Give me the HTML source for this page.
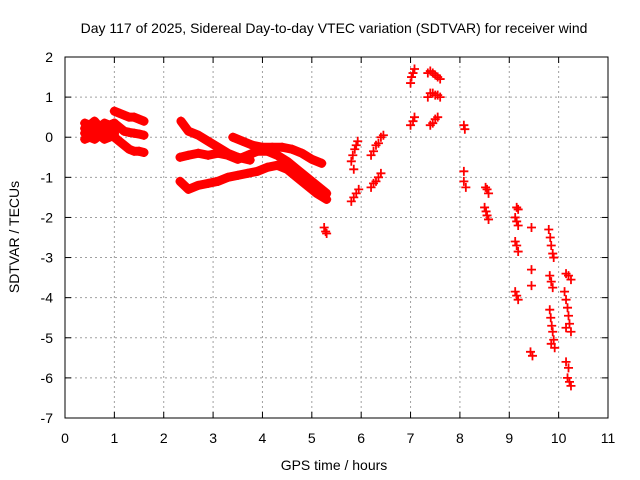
<!DOCTYPE html>
<html><head><meta charset="utf-8"><style>
body{margin:0;background:#fff}
svg{display:block;font-family:"Liberation Sans",sans-serif}
</style></head><body>
<svg id="chart" width="640" height="480">
<text x="334" y="33" text-anchor="middle" font-size="14">Day 117 of 2025, Sidereal Day-to-day VTEC variation (SDTVAR) for receiver wind</text>
<text x="334" y="470" text-anchor="middle" font-size="14">GPS time / hours</text>
<text transform="translate(19,237) rotate(-90)" text-anchor="middle" font-size="14">SDTVAR / TECUs</text>
<g id="grid"></g>
<g id="marks"></g>
<rect x="65" y="57" width="543" height="361" fill="none" stroke="#000" stroke-width="1"/>
<g id="ticks"></g>
</svg>
<script>
const xTicks=[0,1,2,3,4,5,6,7,8,9,10,11];
const yTicks=[2,1,0,-1,-2,-3,-4,-5,-6,-7];
// dense tracks
const t1a=[0.4,0.5,0.6,0.7,0.8,0.9,1.0], v1a=[0.35,0.3,0.4,0.25,0.35,0.3,0.35];
const t1b=[0.4,0.5,0.6,0.7,0.8,0.9,1.0], v1b=[0.1,0.15,0.05,0.2,0.1,0.15,0.1];
const t1c=[0.4,0.5,0.6,0.7,0.8,0.9,1.0], v1c=[-0.05,0.0,-0.05,0.05,-0.05,0.0,0.05];
const t1g=[0.4,0.5,0.6,0.7,0.8,0.9,1.0], v1g=[0.22,0.2,0.25,0.15,0.22,0.2,0.25];
const t1d=[1.0,1.1,1.2,1.3,1.4,1.5,1.6], v1d=[0.65,0.6,0.55,0.5,0.5,0.45,0.4];
const t1e=[1.0,1.1,1.2,1.3,1.4,1.5,1.6], v1e=[0.35,0.25,0.15,0.12,0.1,0.08,0.05];
const t1f=[1.0,1.1,1.2,1.3,1.4,1.5,1.6], v1f=[0.0,-0.1,-0.2,-0.3,-0.35,-0.35,-0.38];
const t2a=[2.35,2.5,2.7,2.9,3.1,3.3,3.5,3.75], v2a=[0.4,0.15,0.05,-0.1,-0.25,-0.4,-0.5,-0.57];
const t2b=[3.4,3.6,3.8,4.0,4.2,4.4,4.6,4.8,5.0,5.2], v2b=[0,-0.1,-0.2,-0.25,-0.25,-0.25,-0.3,-0.4,-0.55,-0.65];
const t2c=[2.33,2.5,2.7,2.9,3.1,3.3,3.5,3.7,3.9,4.1,4.3,4.5,4.7,4.9,5.1,5.3], v2c=[-0.5,-0.45,-0.4,-0.45,-0.4,-0.45,-0.55,-0.45,-0.35,-0.35,-0.45,-0.6,-0.8,-1.0,-1.2,-1.4];
const t2d=[2.33,2.5,2.7,2.9,3.1,3.3,3.5,3.7,3.9,4.1,4.3,4.5,4.7,4.9,5.1,5.3], v2d=[-1.1,-1.3,-1.2,-1.15,-1.1,-1.0,-0.95,-0.9,-0.85,-0.75,-0.7,-0.8,-1.0,-1.2,-1.4,-1.55];
const trackTimes=[t1a,t1b,t1c,t1g,t1d,t1e,t1f,t2a,t2b,t2c,t2d];
const trackValues=[v1a,v1b,v1c,v1g,v1d,v1e,v1f,v2a,v2b,v2c,v2d];
// scattered points
const scatterT=[5.25,5.28,5.3, 5.8,5.85,5.9,5.95,5.8,5.83,5.87,5.9,5.93,5.85,
6.2,6.25,6.3,6.35,6.4,6.2,6.25,6.3,6.35,6.4,6.45,
7.0,7.02,7.05,7.08,7.0,7.05,7.08,
7.35,7.4,7.45,7.5,7.55,7.6,7.35,7.4,7.45,7.5,7.55,7.6,7.4,7.45,7.5,7.55,
8.08,8.1,8.08,8.08,8.12,
8.52,8.55,8.58,8.5,8.53,8.55,8.58,
9.15,9.18,9.12,9.15,9.18,9.12,9.15,9.18,9.12,9.15,9.18,
9.45,9.45,9.45,9.43,9.47,
9.8,9.83,9.85,9.88,9.9,9.82,9.85,9.88,9.82,9.84,9.86,9.88,9.9,9.92,9.85,
10.15,10.2,10.25,10.12,10.15,10.18,10.2,10.22,10.25,10.15,10.15,10.2,10.18,10.22,10.25];
const scatterV=[-2.25,-2.35,-2.4, -1.6,-1.5,-1.4,-1.3,-0.6,-0.45,-0.3,-0.2,-0.1,-0.8,
-1.25,-1.15,-1.1,-1.0,-0.9,-0.45,-0.35,-0.2,-0.15,0.0,0.05,
1.35,1.5,1.6,1.7,0.3,0.4,0.5,
1.6,1.65,1.6,1.55,1.5,1.45,1.0,1.1,1.1,1.05,1.05,1.0,0.3,0.35,0.45,0.5,
0.3,0.2,-0.85,-1.1,-1.25,
-1.25,-1.3,-1.4,-1.75,-1.85,-1.95,-2.05,
-1.75,-1.8,-2.0,-2.1,-2.2,-2.6,-2.7,-2.85,-3.85,-3.95,-4.05,
-2.25,-3.3,-3.7,-5.35,-5.45,
-2.3,-2.5,-2.7,-2.9,-3.0,-3.45,-3.6,-3.75,-4.3,-4.5,-4.7,-4.85,-5.05,-5.25,-5.15,
-3.4,-3.45,-3.55,-3.85,-4.05,-4.25,-4.45,-4.65,-4.85,-4.75,-5.6,-5.75,-6.0,-6.1,-6.2];

const X0=65,X1=608,Y0=418,Y1=57;
const xs=t=>X0+(t-0)/(11-0)*(X1-X0);
const ys=v=>Y0-(v-(-7))/(2-(-7))*(Y0-Y1);
const NS="http://www.w3.org/2000/svg";
function mk(tag,attrs,parent){const e=document.createElementNS(NS,tag);for(const k in attrs)e.setAttribute(k,attrs[k]);parent.appendChild(e);return e;}
const grid=document.getElementById('grid'),ticks=document.getElementById('ticks'),marks=document.getElementById('marks');
xTicks.forEach(t=>{const x=xs(t);
  if(t>0&&t<11){const g=mk('line',{x1:x,x2:x,y1:Y0,y2:Y1,stroke:'#a0a0a0','stroke-dasharray':'2,3'},grid);
  
  }
  mk('line',{x1:x,x2:x,y1:Y0,y2:Y0-6,stroke:'#000'},ticks);
  mk('line',{x1:x,x2:x,y1:Y1,y2:Y1+6,stroke:'#000'},ticks);
  const l=mk('text',{x:x,y:443,'text-anchor':'middle','font-size':14},ticks);l.textContent=t;
  
  
});
yTicks.forEach(v=>{const y=ys(v);
  if(v<2&&v>-7){const g=mk('line',{x1:X0,x2:X1,y1:y,y2:y,stroke:'#a0a0a0','stroke-dasharray':'2,3'},grid);
  
  }
  mk('line',{x1:X0,x2:X0+6,y1:y,y2:y,stroke:'#000'},ticks);
  mk('line',{x1:X1,x2:X1-6,y1:y,y2:y,stroke:'#000'},ticks);
  const l=mk('text',{x:53,y:y+5,'text-anchor':'end','font-size':14},ticks);l.textContent=v;
  
  
});
function plus(t,v){const x=xs(t),y=ys(v);
  const p=mk('path',{d:`M${x-4.5},${y}H${x+4.5}M${x},${y-4.5}V${y+4.5}`,stroke:'#f00','stroke-width':1.8},marks);
  
  
}
trackTimes.forEach((ts,i)=>{const vs=trackValues[i];
  const pl=mk('polyline',{points:ts.map((t,j)=>xs(t)+','+ys(vs[j])).join(' '),fill:'none',stroke:'#f00','stroke-width':9,'stroke-linejoin':'round','stroke-linecap':'round'},marks);
  
  
  ts.forEach((t,j)=>plus(t,vs[j]));
});
scatterT.forEach((t,i)=>plus(t,scatterV[i]));
</script>
</body></html>
